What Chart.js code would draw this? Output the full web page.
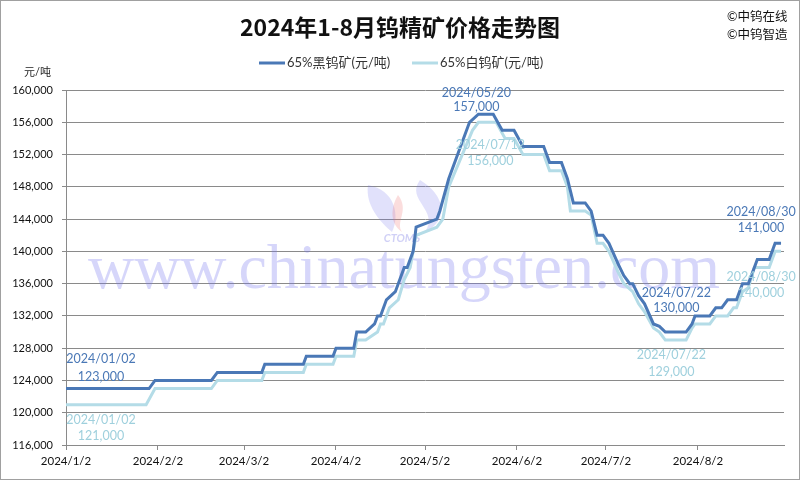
<!DOCTYPE html>
<html>
<head>
<meta charset="utf-8">
<script src="https://cdn.jsdelivr.net/npm/chart.js@4.4.1/dist/chart.umd.min.js"></script>
<style>
  html, body { margin: 0; padding: 0; background: #fff; }
  #wrap { position: relative; width: 800px; height: 480px; }
</style>
</head>
<body>
<div id="wrap"><canvas id="priceChart" width="800" height="480"></canvas></div>
<script>
// ── DATA ──────────────────────────────────────────────────────
const chartTitle = "2024年1-8月钨精矿价格走势图";
const seriesNames = ["65%黑钨矿(元/吨)", "65%白钨矿(元/吨)"];
const yUnit = "元/吨";
const yMin = 116000, yMax = 160000, yStep = 4000;
const xTickLabels = ["2024/1/2", "2024/2/2", "2024/3/2", "2024/4/2", "2024/5/2", "2024/6/2", "2024/7/2", "2024/8/2"];

// 65% wolframite (黑钨矿)
const blackDates = ["01/02","01/30","02/01","02/20","02/22","03/08","03/09","03/22","03/23","04/01","04/02","04/08","04/09","04/12","04/15","04/16","04/17","04/19","04/22","04/25","04/26","04/28","04/29","05/06","05/07","05/10","05/13","05/17","05/20","05/25","05/28","06/01","06/04","06/11","06/13","06/17","06/19","06/21","06/25","06/27","06/29","07/01","07/03","07/06","07/08","07/10","07/11","07/13","07/15","07/18","07/20","07/22","07/29","07/31","08/01","08/06","08/08","08/10","08/12","08/15","08/17","08/19","08/22","08/26","08/28","08/30"];
const blackPrices = [123000,123000,124000,124000,125000,125000,126000,126000,127000,127000,128000,128000,130000,130000,131000,132000,132000,134000,135000,138000,138000,140000,143000,144000,145000,149000,152000,156000,157000,157000,155000,155000,153000,153000,151000,151000,149000,146000,146000,145000,142000,142000,141000,138500,137000,136000,136000,134500,133500,131000,130700,130000,130000,131000,132000,132000,133000,133000,134000,134000,136000,136000,139000,139000,141000,141000];

// 65% scheelite (白钨矿)
const whiteDates = ["01/02","01/29","02/01","02/20","02/22","03/08","03/09","03/22","03/23","04/01","04/02","04/08","04/09","04/12","04/16","04/17","04/18","04/20","04/23","04/25","04/27","04/29","05/06","05/08","05/10","05/14","05/18","05/20","05/26","05/29","06/01","06/04","06/11","06/13","06/17","06/19","06/20","06/25","06/27","06/29","07/01","07/03","07/06","07/08","07/11","07/13","07/15","07/18","07/20","07/22","07/29","07/31","08/01","08/06","08/08","08/12","08/14","08/15","08/17","08/19","08/21","08/26","08/28","08/30"];
const whitePrices = [121000,121000,123000,123000,124000,124000,125000,125000,126000,126000,127000,127000,129000,129000,130000,131000,131000,133000,134000,136500,138000,142000,143000,144000,148000,151500,155000,156000,156000,154000,154000,152000,152000,150000,150000,148000,145000,145000,144500,141000,141000,140000,137500,136000,135000,133500,132500,130500,130000,129000,129000,130500,131000,131000,132000,132000,133000,133000,135000,135500,138000,138000,140000,140000];

// labelled points: [date, label text]
const blackNotes = [["01/02","2024/01/02"],["05/20","2024/05/20"],["07/22","2024/07/22"],["08/30","2024/08/30"]];
const whiteNotes = [["01/02","2024/01/02"],["05/20","2024/07/12"],["07/22","2024/07/22"],["08/30","2024/08/30"]];

// ── HELPERS ───────────────────────────────────────────────────
const DAY = 86400000;
function dayIndex(s) {
  const p = s.split("/").map(Number);
  const y = p.length === 3 ? p[0] : 2024;
  const m = p.length === 3 ? p[1] : p[0];
  const d = p.length === 3 ? p[2] : p[1];
  return (Date.UTC(y, m - 1, d) - Date.UTC(2024, 0, 2)) / DAY;
}
function toPoints(dates, prices) {
  return dates.map((d, i) => ({ x: dayIndex(d), y: prices[i] }));
}
function fmt(v) { return v.toLocaleString("en-US"); }

const BLACK = "#4a78b6";
const WHITE = "#b4dce7";
const GRID = "#8a8a8a";
const FONT = "Lato, 'Noto Sans CJK SC', sans-serif";
const xTickDays = xTickLabels.map(dayIndex);

// ── PLUGIN: title, legend, notes, watermark ───────────────────
const decor = {
  id: "decor",
  beforeDatasetsDraw(chart) {
    const c = chart.ctx;
    c.save();
    // faint logo swooshes
    c.fillStyle = "rgba(120,120,235,0.22)";
    c.beginPath();
    c.moveTo(368, 185);
    c.bezierCurveTo(395, 190, 400, 215, 392, 232);
    c.bezierCurveTo(380, 222, 365, 205, 368, 185);
    c.fill();
    c.beginPath();
    c.moveTo(420, 180);
    c.bezierCurveTo(405, 200, 440, 210, 425, 232);
    c.bezierCurveTo(450, 220, 445, 195, 420, 180);
    c.fill();
    c.fillStyle = "rgba(240,120,120,0.25)";
    c.beginPath();
    c.moveTo(398, 195);
    c.bezierCurveTo(410, 210, 395, 222, 402, 232);
    c.bezierCurveTo(388, 222, 392, 205, 398, 195);
    c.fill();
    c.textAlign = "center";
    c.textBaseline = "alphabetic";
    c.font = "italic bold 11px " + FONT;
    c.fillStyle = "rgba(120,120,230,0.35)";
    c.fillText("CTOMS", 402, 242);
    // site text
    c.fillStyle = "rgba(120,120,240,0.30)";
    c.font = "64px 'Liberation Serif', 'DejaVu Serif', serif";
    c.fillText("www.chinatungsten.com", 404, 288);
    c.restore();
  },
  afterDraw(chart) {
    const c = chart.ctx;
    const xs = chart.scales.x, ys = chart.scales.y;
    c.save();
    // title
    c.fillStyle = "#111";
    c.textAlign = "center";
    c.textBaseline = "middle";
    c.font = "bold 23px 'Noto Sans CJK SC', sans-serif";
    c.fillText(chartTitle, 400, 27);
    // copyright
    c.textAlign = "left";
    c.font = "12.5px " + FONT;
    c.fillText("©中钨在线", 727, 17);
    c.fillText("©中钨智造", 727, 35);
    // unit
    c.font = "11px " + FONT;
    c.fillStyle = "#222";
    c.fillText(yUnit, 24, 72);
    // legend
    const leg = [[259, BLACK, seriesNames[0]], [412, WHITE, seriesNames[1]]];
    c.font = "13px " + FONT;
    leg.forEach(([lx, col, txt]) => {
      c.strokeStyle = col;
      c.lineWidth = 3;
      c.beginPath(); c.moveTo(lx, 63); c.lineTo(lx + 26, 63); c.stroke();
      c.fillStyle = "#333";
      c.fillText(txt, lx + 28, 63);
    });
    // notes
    c.textAlign = "center";
    c.font = "12.5px " + FONT;
    const blackOff = [[35, -30, -12], [-2, -21, -7], [11, -39, -24], [-20, -31, -15]];
    const whiteOff = [[35, 15, 31], [12, 23, 39], [6, 15, 32], [-20, 26, 42]];
    const drawNotes = (notes, dates, prices, offs, col) => {
      notes.forEach(([d, txt], i) => {
        const v = prices[dates.indexOf(d)];
        const px = xs.getPixelForValue(dayIndex(d)) + offs[i][0];
        const py = ys.getPixelForValue(v);
        c.fillStyle = col;
        c.fillText(txt, px, py + offs[i][1]);
        c.fillText(fmt(v), px, py + offs[i][2]);
      });
    };
    drawNotes(blackNotes, blackDates, blackPrices, blackOff, BLACK);
    drawNotes(whiteNotes, whiteDates, whitePrices, whiteOff, "#9fd0dd");
    // frame
    c.strokeStyle = "#a0a0a0";
    c.lineWidth = 1;
    c.strokeRect(0.5, 0.5, 799, 479);
    c.restore();
  }
};

// ── CHART ─────────────────────────────────────────────────────
new Chart(document.getElementById("priceChart").getContext("2d"), {
  type: "line",
  data: {
    datasets: [
      {
        label: seriesNames[0],
        data: toPoints(blackDates, blackPrices),
        borderColor: BLACK,
        borderWidth: 3,
        pointRadius: 0,
        tension: 0,
        fill: false,
      },
      {
        label: seriesNames[1],
        data: toPoints(whiteDates, whitePrices),
        borderColor: WHITE,
        borderWidth: 3,
        pointRadius: 0,
        tension: 0,
        fill: false,
      },
    ],
  },
  options: {
    responsive: false,
    animation: false,
    layout: { padding: { top: 90, right: 16, left: 0, bottom: 0 } },
    plugins: { legend: { display: false }, title: { display: false }, tooltip: { enabled: false } },
    scales: {
      x: {
        type: "linear",
        min: 0,
        max: 242,
        afterBuildTicks: (s) => { s.ticks = xTickDays.map(v => ({ value: v })); },
        afterFit: (s) => { s.height = 35; },
        grid: { drawOnChartArea: false, color: GRID, tickLength: 5 },
        border: { color: GRID },
        ticks: {
          autoSkip: false,
          maxRotation: 0,
          padding: 4,
          color: "#111",
          font: { family: FONT, size: 11.5 },
          callback: (v, i) => xTickLabels[i],
        },
      },
      y: {
        min: yMin,
        max: yMax,
        afterFit: (s) => { s.width = 66; },
        grid: { color: GRID, tickLength: 4 },
        border: { color: GRID },
        ticks: {
          stepSize: yStep,
          padding: 9,
          color: "#111",
          font: { family: FONT, size: 11 },
          callback: (v) => fmt(v),
        },
      },
    },
  },
  plugins: [decor],
});
</script>
</body>
</html>
